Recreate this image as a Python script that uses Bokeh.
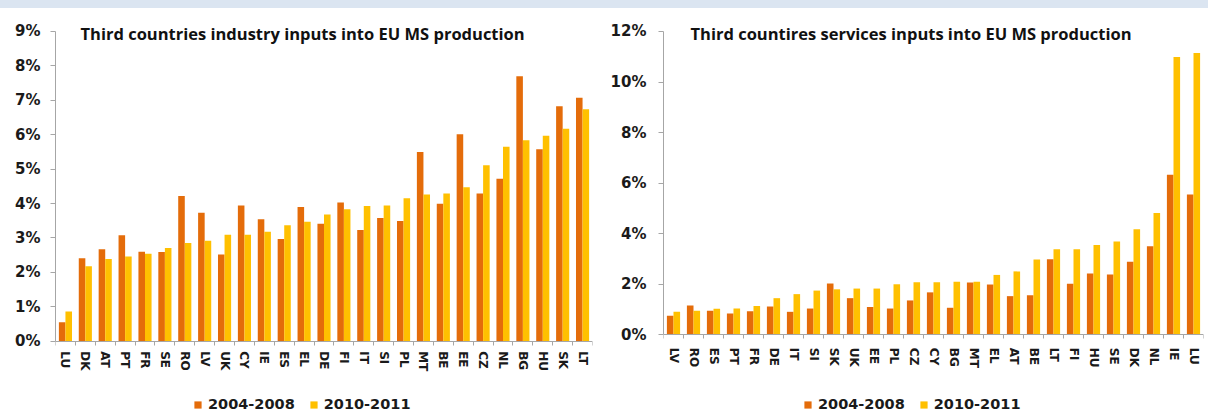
import numpy as np
from bokeh.plotting import figure
from bokeh.layouts import row, column
from bokeh.models import (ColumnDataSource, FixedTicker, CustomJSTickFormatter,
                          PrintfTickFormatter, Legend, LegendItem, Label, Div)
from bokeh.transform import dodge
from bokeh.embed import file_html
from bokeh.resources import INLINE

# ---------------- data ----------------
ind_countries = ["LU", "DK", "AT", "PT", "FR", "SE", "RO", "LV", "UK", "CY", "IE", "ES", "EL", "DE",
                 "FI", "IT", "SI", "PL", "MT", "BE", "EE", "CZ", "NL", "BG", "HU", "SK", "LT"]
ind_2004_2008 = [0.55, 2.41, 2.67, 3.08, 2.60, 2.59, 4.22, 3.73, 2.52, 3.94, 3.54, 2.97, 3.90, 3.41,
                 4.03, 3.23, 3.58, 3.49, 5.50, 3.99, 6.01, 4.29, 4.72, 7.70, 5.58, 6.83, 7.07]
ind_2010_2011 = [0.86, 2.18, 2.39, 2.46, 2.54, 2.71, 2.85, 2.92, 3.09, 3.09, 3.18, 3.37, 3.47, 3.68,
                 3.83, 3.93, 3.94, 4.15, 4.26, 4.29, 4.47, 5.11, 5.65, 5.84, 5.97, 6.17, 6.74]

srv_countries = ["LV", "RO", "ES", "PT", "FR", "DE", "IT", "SI", "SK", "UK", "EE", "PL", "CZ", "CY",
                 "BG", "MT", "EL", "AT", "BE", "LT", "FI", "HU", "SE", "DK", "NL", "IE", "LU"]
srv_2004_2008 = [0.75, 1.16, 0.95, 0.84, 0.93, 1.12, 0.91, 1.04, 2.03, 1.45, 1.10, 1.04, 1.36, 1.68,
                 1.07, 2.07, 1.99, 1.53, 1.57, 2.99, 2.02, 2.43, 2.39, 2.89, 3.50, 6.33, 5.55]
srv_2010_2011 = [0.91, 0.95, 1.03, 1.04, 1.14, 1.45, 1.61, 1.75, 1.80, 1.83, 1.83, 2.00, 2.08, 2.08,
                 2.10, 2.10, 2.37, 2.51, 2.98, 3.39, 3.39, 3.55, 3.69, 4.18, 4.82, 10.99, 11.15]

series_labels = ["2004-2008", "2010-2011"]
ind_title = "Third countries industry inputs into EU MS production"
srv_title = "Third countires services inputs into EU MS production"

ORANGE = "#E46C0A"
YELLOW = "#FFC000"
AXIS = "#a6a6a6"
TXT = "#1a1a1a"
FONT = "DejaVu Sans"
BAND = "#dbe5f1"


def panel(countries, a, b, ymax, ystep, yrange, title, width, height, bl, br, bt,
          title_x, legend_x, legend_y, xstandoff, ystandoff):
    n = len(countries)
    pos = np.arange(n) + 0.5
    src = ColumnDataSource(dict(pos=pos, a=a, b=b, c=countries))
    p = figure(width=width, height=height, x_range=(0, n), y_range=yrange,
               output_backend="svg", toolbar_location=None,
               min_border_left=bl, min_border_right=br, min_border_top=bt, min_border_bottom=0)
    p.outline_line_color = None
    p.xgrid.grid_line_color = None
    p.ygrid.grid_line_color = None
    p.background_fill_color = "white"
    p.border_fill_color = "white"

    r1 = p.vbar(x=dodge("pos", -0.165), top="a", width=0.33, source=src,
                fill_color=ORANGE, line_color=None)
    r2 = p.vbar(x=dodge("pos", 0.165), top="b", width=0.33, source=src,
                fill_color=YELLOW, line_color=None)

    # x axis, drawn at the zero line inside the frame
    xa = p.xaxis[0]
    xa.fixed_location = 0
    xa.ticker = FixedTicker(ticks=list(pos), minor_ticks=list(np.arange(n + 1)))
    xa.formatter = CustomJSTickFormatter(args=dict(names=countries),
                                         code="return names[Math.floor(tick)];")
    xa.major_label_orientation = "vertical"
    xa.major_tick_line_color = None
    xa.major_tick_out = 0
    xa.major_tick_in = 0
    xa.minor_tick_line_color = AXIS
    xa.minor_tick_out = 4
    xa.minor_tick_in = 0
    xa.axis_line_color = AXIS
    xa.major_label_text_font = FONT
    xa.major_label_text_font_style = "bold"
    xa.major_label_text_font_size = "12px"
    xa.major_label_text_color = TXT
    xa.major_label_standoff = xstandoff

    # y axis
    ya = p.yaxis[0]
    ya.ticker = FixedTicker(ticks=list(np.arange(0, ymax + 0.001, ystep)))
    ya.formatter = PrintfTickFormatter(format="%d%%")
    ya.bounds = (0, ymax)
    ya.axis_line_color = AXIS
    ya.major_tick_line_color = AXIS
    ya.major_tick_out = 5
    ya.major_tick_in = 0
    ya.minor_tick_line_color = None
    ya.major_label_text_font = FONT
    ya.major_label_text_font_style = "bold"
    ya.major_label_text_font_size = "15px"
    ya.major_label_text_color = TXT
    ya.major_label_standoff = ystandoff

    lab = Label(x=title_x, y=ymax, x_units="screen", y_units="data", text=title,
                text_font="Open Sans", text_font_style="bold", text_font_size="16.5px",
                text_color="#111111", text_baseline="middle", text_align="left",
                y_offset=-2)
    p.add_layout(lab)

    leg = Legend(items=[LegendItem(label=series_labels[0], renderers=[r1]),
                        LegendItem(label=series_labels[1], renderers=[r2])],
                 orientation="horizontal", location=(legend_x, legend_y),
                 glyph_width=9, glyph_height=9, label_standoff=6, spacing=14,
                 padding=0, margin=0, border_line_color=None,
                 background_fill_alpha=0,
                 label_text_font=FONT, label_text_font_style="bold",
                 label_text_font_size="14.5px", label_text_color=TXT, label_height=14)
    p.add_layout(leg, "center")
    return p


p1 = panel(ind_countries, ind_2004_2008, ind_2010_2011, 9, 1, (-2.276, 9.26), ind_title,
           width=606, height=411, bl=55, br=14, bt=14,
           title_x=25, legend_x=138, legend_y=7, xstandoff=6, ystandoff=10)
p2 = panel(srv_countries, srv_2004_2008, srv_2010_2011, 12, 2, (-3.35, 12.356), srv_title,
           width=602, height=411, bl=57, br=5, bt=14,
           title_x=27, legend_x=140, legend_y=7, xstandoff=9, ystandoff=12)

band = Div(text="", width=1208, height=8, margin=0, styles={"background-color": BAND})

p = column(band, row(p1, p2))
open("out.html", "w").write(file_html(p, INLINE))
